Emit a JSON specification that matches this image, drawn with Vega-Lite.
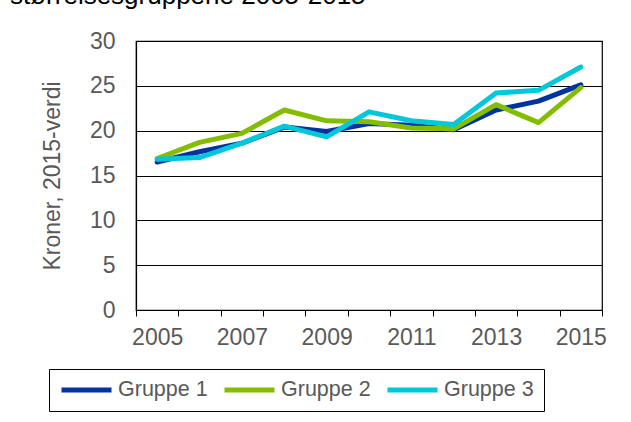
{
  "$schema": "https://vega.github.io/schema/vega-lite/v6.json",
  "autosize": {"type": "none"},
  "width": 466,
  "height": 269,
  "padding": {"left": 136, "top": 41, "right": 29, "bottom": 112},
  "background": "white",
  "title": {
    "text": "størrelsesgruppene 2005-2015",
    "anchor": "start",
    "frame": "group",
    "font": "Liberation Sans",
    "fontSize": 26,
    "fontWeight": "normal",
    "color": "#000000",
    "baseline": "alphabetic",
    "dx": -126,
    "offset": 0,
    "dy": 0
  },
  "config": {
    "font": "Liberation Sans",
    "view": {"stroke": "#000000", "strokeWidth": 1.2},
    "axis": {
      "labelFont": "Liberation Sans",
      "titleFont": "Liberation Sans",
      "labelColor": "#595959",
      "titleColor": "#595959",
      "labelFontSize": 23,
      "titleFontSize": 23,
      "titleFontWeight": "normal",
      "domainColor": "#000000",
      "tickColor": "#000000",
      "gridColor": "#000000",
      "gridOpacity": 1,
      "gridWidth": 1
    }
  },
  "data": {
    "values": [
      {"year": 2005, "gruppe": "Gruppe 1", "kroner": 16.5},
      {"year": 2006, "gruppe": "Gruppe 1", "kroner": 17.65},
      {"year": 2007, "gruppe": "Gruppe 1", "kroner": 18.6},
      {"year": 2008, "gruppe": "Gruppe 1", "kroner": 20.4},
      {"year": 2009, "gruppe": "Gruppe 1", "kroner": 19.9},
      {"year": 2010, "gruppe": "Gruppe 1", "kroner": 20.8},
      {"year": 2011, "gruppe": "Gruppe 1", "kroner": 20.6},
      {"year": 2012, "gruppe": "Gruppe 1", "kroner": 20.1},
      {"year": 2013, "gruppe": "Gruppe 1", "kroner": 22.3},
      {"year": 2014, "gruppe": "Gruppe 1", "kroner": 23.3},
      {"year": 2015, "gruppe": "Gruppe 1", "kroner": 25.1},
      {"year": 2005, "gruppe": "Gruppe 2", "kroner": 16.9},
      {"year": 2006, "gruppe": "Gruppe 2", "kroner": 18.7},
      {"year": 2007, "gruppe": "Gruppe 2", "kroner": 19.7},
      {"year": 2008, "gruppe": "Gruppe 2", "kroner": 22.3},
      {"year": 2009, "gruppe": "Gruppe 2", "kroner": 21.1},
      {"year": 2010, "gruppe": "Gruppe 2", "kroner": 21.0},
      {"year": 2011, "gruppe": "Gruppe 2", "kroner": 20.3},
      {"year": 2012, "gruppe": "Gruppe 2", "kroner": 20.2},
      {"year": 2013, "gruppe": "Gruppe 2", "kroner": 22.9},
      {"year": 2014, "gruppe": "Gruppe 2", "kroner": 20.9},
      {"year": 2015, "gruppe": "Gruppe 2", "kroner": 24.8},
      {"year": 2005, "gruppe": "Gruppe 3", "kroner": 16.8},
      {"year": 2006, "gruppe": "Gruppe 3", "kroner": 17.0},
      {"year": 2007, "gruppe": "Gruppe 3", "kroner": 18.6},
      {"year": 2008, "gruppe": "Gruppe 3", "kroner": 20.5},
      {"year": 2009, "gruppe": "Gruppe 3", "kroner": 19.3},
      {"year": 2010, "gruppe": "Gruppe 3", "kroner": 22.1},
      {"year": 2011, "gruppe": "Gruppe 3", "kroner": 21.1},
      {"year": 2012, "gruppe": "Gruppe 3", "kroner": 20.7},
      {"year": 2013, "gruppe": "Gruppe 3", "kroner": 24.2},
      {"year": 2014, "gruppe": "Gruppe 3", "kroner": 24.5},
      {"year": 2015, "gruppe": "Gruppe 3", "kroner": 27.1}
    ]
  },
  "mark": {"type": "line", "strokeWidth": 5, "strokeCap": "round", "strokeJoin": "round"},
  "encoding": {
    "x": {
      "field": "year",
      "type": "ordinal",
      "scale": {"type": "band", "paddingInner": 0, "paddingOuter": 0},
      "axis": {
        "title": null,
        "labelAngle": 0,
        "tickBand": "extent",
        "tickSize": 6,
        "labelPadding": 10,
        "grid": false,
        "domainWidth": 1.2,
        "labelExpr": "datum.value % 2 == 1 ? datum.label : ''"
      }
    },
    "y": {
      "field": "kroner",
      "type": "quantitative",
      "scale": {"domain": [0, 30], "nice": false},
      "axis": {
        "title": "Kroner, 2015-verdi",
        "values": [0, 5, 10, 15, 20, 25, 30],
        "ticks": false,
        "labelPadding": 21,
        "titlePadding": 25,
        "domainWidth": 1.2
      }
    },
    "color": {
      "field": "gruppe",
      "type": "nominal",
      "scale": {"domain": ["Gruppe 1", "Gruppe 2", "Gruppe 3"], "range": ["#0033A0", "#84BD00", "#00C8DA"]},
      "legend": {
        "title": null,
        "orient": "none",
        "legendX": -87,
        "legendY": 328,
        "direction": "horizontal",
        "strokeColor": "#000000",
        "padding": 10,
        "symbolType": "stroke",
        "symbolSize": 2500,
        "symbolStrokeWidth": 5,
        "clipHeight": 22,
        "labelFont": "Liberation Sans",
        "labelFontSize": 21.5,
        "labelColor": "#595959",
        "labelOffset": 4,
        "columnPadding": 14
      }
    }
  }
}
